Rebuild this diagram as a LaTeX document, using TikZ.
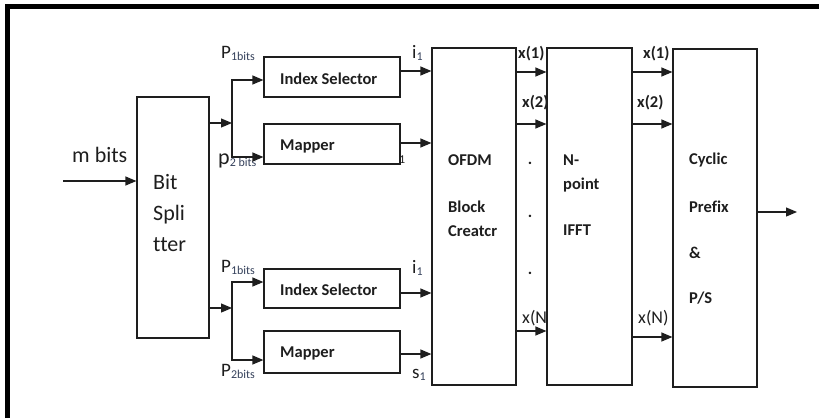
\documentclass[tikz,border=0pt]{standalone}
\usepackage{fontspec}
\setmainfont{Carlito}[Ligatures=NoCommon]
\usetikzlibrary{arrows.meta}
\definecolor{ink}{HTML}{1E1E1E}
\definecolor{subc}{HTML}{34405A}
\newcommand\sublbl[3]{{\fontsize{#3}{#3}\selectfont #1}\raisebox{-2pt}{\fontsize{12}{12}\selectfont\color{subc}#2}}
\begin{document}
\begin{tikzpicture}[x=1pt,y=-1pt,
  blk/.style={draw=ink, line width=1.2pt, fill=white, inner sep=0pt},
  arr/.style={draw=ink, line width=1.2pt, -{Triangle[length=11pt,width=9pt]}},
  bt/.style={font=\fontsize{16.5}{16.5}\selectfont\bfseries, text=ink, anchor=base west, inner sep=0pt},
  rt/.style={font=\fontsize{22}{22}\selectfont, text=ink, anchor=base west, inner sep=0pt},
  lt/.style={text=ink, anchor=base west, inner sep=0pt}]
\useasboundingbox (0,0) rectangle (819,418);
% frame
\draw[line width=5pt, black] (7.5,418) -- (7.5,6.5) -- (819,6.5);

% labels that the boxes partly cover
\node[bt] (x1a) at (518,58) {x(1)};
\node[bt] (x2a) at (522,107) {x(2)};
\node[lt, font=\fontsize{18}{18}\selectfont] (xna) at (522,323) {x(N};
\node[lt, font=\fontsize{12}{12}\selectfont] (s1a) at (399,163) {1};

% boxes
\node[blk, minimum width=72pt, minimum height=241pt] (bs) at (173,217.5) {};
\node[blk, minimum width=136pt, minimum height=40pt] (is1) at (332,77) {};
\node[blk, minimum width=136pt, minimum height=40pt] (mp1) at (332,144) {};
\node[blk, minimum width=136pt, minimum height=39pt] (is2) at (332,288.5) {};
\node[blk, minimum width=136pt, minimum height=42pt] (mp2) at (332,352) {};
\node[blk, minimum width=84pt, minimum height=337pt] (ofdm) at (474,216.5) {};
\node[blk, minimum width=85pt, minimum height=337pt] (ifft) at (589.5,216.5) {};
\node[blk, minimum width=84pt, minimum height=338pt] (cp) at (715,218) {};

% box texts
\node[rt] (t1) at (153,189) {Bit};
\node[rt] (t2) at (153,220) {Spli};
\node[rt] (t3) at (153,251) {tter};
\node[bt] (t4) at (280,84) {Index Selector};
\node[bt] (t5) at (280,150) {Mapper};
\node[bt] (t6) at (280,295) {Index Selector};
\node[bt] (t7) at (280,357) {Mapper};
\node[bt] (t8) at (448,165) {OFDM};
\node[bt] (t9) at (448,212) {Block};
\node[bt] (t10) at (448,236) {Creatcr};
\node[bt] (t11) at (563,165) {N-};
\node[bt] (t12) at (563,189) {point};
\node[bt] (t13) at (563,235) {IFFT};
\node[bt] (t14) at (689,164) {Cyclic};
\node[bt] (t15) at (689,212) {Prefix};
\node[bt] (t16) at (689,258) {\&};
\node[bt] (t17) at (689,303) {P/S};

% other labels
\node[rt] (mb) at (72,162) {m bits};
\node[lt] (p1a) at (221,58) {\sublbl{P}{1bits}{19}};
\node[lt] (p2a) at (218,164) {\sublbl{p}{2 bits}{22}};
\node[lt] (p1b) at (221,272) {\sublbl{P}{1bits}{19}};
\node[lt] (p2b) at (221,376) {\sublbl{P}{2bits}{19}};
\node[lt] (i1a) at (412,58) {\sublbl{i}{1}{19}};
\node[lt] (i1b) at (412,273) {\sublbl{i}{1}{19}};
\node[lt] (s1b) at (412,378) {\sublbl{s}{1}{19}};
\node[bt] (x1b) at (643,58) {x(1)};
\node[bt] (x2b) at (637,107) {x(2)};
\node[lt, font=\fontsize{18}{18}\selectfont] (xnb) at (638,323) {x(N)};
\node[bt, anchor=base] (d1) at (530,164) {.};
\node[bt, anchor=base] (d2) at (530,217) {.};
\node[bt, anchor=base] (d3) at (530,274) {.};

% connectors
\coordinate (in) at (63,181);
\draw[arr] (in) -- (in -| bs.west);
\coordinate (ja) at (232,123);
\coordinate (jb) at (232,308);
\draw[arr] (bs.east |- ja) -- (ja);
\draw[arr] (bs.east |- jb) -- (jb);
\draw[arr] (ja) |- (is1.west |- 0,80);
\draw[arr] (ja) |- (mp1.west |- 0,157);
\draw[arr] (jb) |- (is2.west |- 0,282);
\draw[arr] (jb) |- (mp2.west |- 0,360);
\draw[arr] (is1.east |- 0,71) -- (ofdm.west |- 0,71);
\draw[arr] (mp1.east |- 0,143) -- (ofdm.west |- 0,143);
\draw[arr] (is2.east |- 0,293) -- (ofdm.west |- 0,293);
\draw[arr] (mp2.east |- 0,354) -- (ofdm.west |- 0,354);
\draw[arr] (ofdm.east |- 0,72) -- (ifft.west |- 0,72);
\draw[arr] (ofdm.east |- 0,124) -- (ifft.west |- 0,124);
\draw[arr] (ofdm.east |- 0,331) -- (ifft.west |- 0,331);
\draw[arr] (ifft.east |- 0,72) -- (cp.west |- 0,72);
\draw[arr] (ifft.east |- 0,124) -- (cp.west |- 0,124);
\draw[arr] (ifft.east |- 0,337) -- (cp.west |- 0,337);
\coordinate (out) at (797,212);
\draw[arr] (cp.east |- out) -- (out);
\end{tikzpicture}
\end{document}
